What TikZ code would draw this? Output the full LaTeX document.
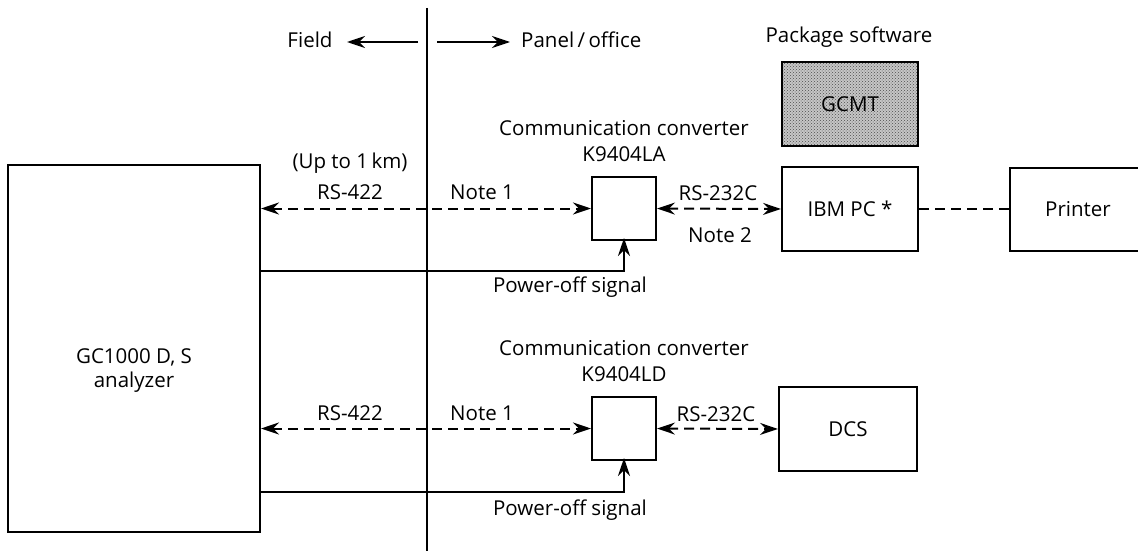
\documentclass[tikz,border=0pt]{standalone}
\usepackage{fontspec}
\setmainfont{Open Sans}
\usetikzlibrary{arrows.meta,patterns}
\tikzset{myarr/.tip={Stealth[length=18pt,width=12pt,inset=6pt]}}
\begin{document}
\begin{tikzpicture}[x=1pt,y=-1pt,
  every node/.style={font=\fontsize{20.5}{24}\selectfont},
  txt/.style={anchor=base, inner sep=0pt},
  blk/.style={draw, line width=2pt, inner sep=0pt},
  dline/.style={line width=2pt, dash pattern=on 10pt off 6pt},
  sline/.style={line width=2pt}
]
\useasboundingbox (0,0) rectangle (1138,551);

% boxes
\node[blk, minimum width=252pt, minimum height=367pt] (gc) at (134,348.5) {};
\node[blk, minimum width=64pt, minimum height=63pt] (conv1) at (624,208.5) {};
\node[blk, minimum width=64pt, minimum height=63pt] (conv2) at (624,428.5) {};
\node[blk, minimum width=136pt, minimum height=84pt,
      preaction={fill=gray!45}, pattern=crosshatch dots, pattern color=black!70] (gcmt) at (850,104) {GCMT};
\node[blk, minimum width=136pt, minimum height=84pt] (ibm) at (850,209) {IBM PC *};
\node[blk, minimum width=136pt, minimum height=83pt] (prn) at (1078,209.5) {Printer};
\node[blk, minimum width=138pt, minimum height=84pt] (dcs) at (848,429) {DCS};

% texts
\node[txt] (gct1) at (134,363) {GC1000 D, S};
\node[txt] (gct2) at (134,387) {analyzer};
\node[txt] (field) at (310,48) {Field};
\node[txt, anchor=base west] (panel) at (521,48) {Panel\,/\,office};
\node[txt] (pkg) at (849,43) {Package software};
\node[txt] (cc1) at (624,135) {Communication converter};
\node[txt] (k1) at (624,161) {K9404LA};
\node[txt] (up) at (350,168) {(Up to 1\,km)};
\node[txt] (rs1) at (350,199) {RS-422};
\node[txt] (n11) at (482,199) {Note 1};
\node[txt] (rc1) at (718,200) {RS-232C};
\node[txt] (n2) at (720,242) {Note 2};
\node[txt] (po1) at (570,292) {Power-off signal};
\node[txt] (cc2) at (624,355) {Communication converter};
\node[txt] (k2) at (624,381) {K9404LD};
\node[txt] (rs2) at (350,420) {RS-422};
\node[txt] (n12) at (482,420) {Note 1};
\node[txt] (rc2) at (716,421) {RS-232C};
\node[txt] (po2) at (570,515) {Power-off signal};

% divider
\coordinate (vtop) at (427,8);
\coordinate (vbot) at (427,551);
\draw[sline] (vtop) -- (vbot);
\coordinate (fa) at (418,42);
\coordinate (fb) at (437,42);
\coordinate (fc) at (347,42);
\coordinate (fd) at (510,42);
\draw[line width=1.6pt, -{myarr}] (fa) -- (fc);
\draw[line width=1.6pt, -{myarr}] (fb) -- (fd);

% signal lines
\draw[dline, {myarr}-{myarr}] (gc.east |- conv1.west) -- (conv1.west);
\draw[dline, {myarr}-{myarr}] (conv1.east) -- (ibm.west);
\draw[dline] (ibm.east) -- (prn.west |- ibm.east);
\draw[dline, {myarr}-{myarr}] (gc.east |- conv2.west) -- (conv2.west);
\draw[dline, {myarr}-{myarr}] (conv2.east) -- (dcs.west);

\coordinate (pw1) at (0,271);
\coordinate (pw2) at (0,492);
\draw[sline, -{myarr}] (gc.east |- pw1) -| ([yshift=3pt]conv1.south);
\draw[sline, -{myarr}] (gc.east |- pw2) -| ([yshift=3pt]conv2.south);
\end{tikzpicture}
\end{document}
